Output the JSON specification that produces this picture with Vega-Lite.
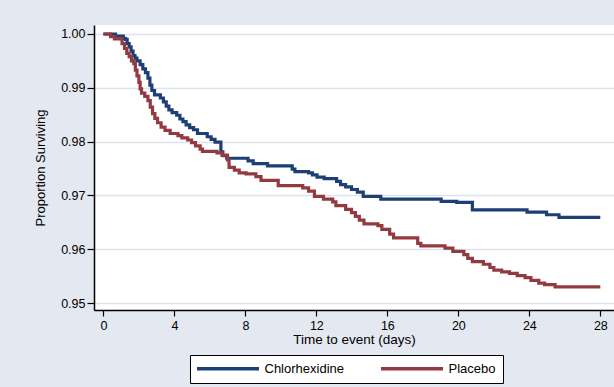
{
  "$schema": "https://vega.github.io/schema/vega-lite/v6.json",
  "width": 520,
  "height": 285,
  "autosize": {"type": "none"},
  "padding": {"left": 94, "top": 25, "right": 0, "bottom": 77},
  "background": "#E4E8F1",
  "config": {"view": {"fill": "white", "stroke": null}, "font": "Liberation Sans"},
  "data": {"values": [
    {"g":"Chlorhexidine","t":0,"s":1.0},
    {"g":"Chlorhexidine","t":0.68,"s":0.9996},
    {"g":"Chlorhexidine","t":1.12,"s":0.9992},
    {"g":"Chlorhexidine","t":1.23,"s":0.9990},
    {"g":"Chlorhexidine","t":1.34,"s":0.9982},
    {"g":"Chlorhexidine","t":1.45,"s":0.9976},
    {"g":"Chlorhexidine","t":1.56,"s":0.9968},
    {"g":"Chlorhexidine","t":1.67,"s":0.9960},
    {"g":"Chlorhexidine","t":1.78,"s":0.9955},
    {"g":"Chlorhexidine","t":1.89,"s":0.9950},
    {"g":"Chlorhexidine","t":2.07,"s":0.9943},
    {"g":"Chlorhexidine","t":2.22,"s":0.9935},
    {"g":"Chlorhexidine","t":2.37,"s":0.9928},
    {"g":"Chlorhexidine","t":2.51,"s":0.9918},
    {"g":"Chlorhexidine","t":2.62,"s":0.9905},
    {"g":"Chlorhexidine","t":2.73,"s":0.9895},
    {"g":"Chlorhexidine","t":2.88,"s":0.9887},
    {"g":"Chlorhexidine","t":3.21,"s":0.9881},
    {"g":"Chlorhexidine","t":3.38,"s":0.9874},
    {"g":"Chlorhexidine","t":3.54,"s":0.9866},
    {"g":"Chlorhexidine","t":3.69,"s":0.9859},
    {"g":"Chlorhexidine","t":3.87,"s":0.9854},
    {"g":"Chlorhexidine","t":4.13,"s":0.9849},
    {"g":"Chlorhexidine","t":4.31,"s":0.9842},
    {"g":"Chlorhexidine","t":4.48,"s":0.9837},
    {"g":"Chlorhexidine","t":4.66,"s":0.9831},
    {"g":"Chlorhexidine","t":4.86,"s":0.9826},
    {"g":"Chlorhexidine","t":5.08,"s":0.9822},
    {"g":"Chlorhexidine","t":5.30,"s":0.9815},
    {"g":"Chlorhexidine","t":5.85,"s":0.9809},
    {"g":"Chlorhexidine","t":6.07,"s":0.9804},
    {"g":"Chlorhexidine","t":6.29,"s":0.9799},
    {"g":"Chlorhexidine","t":6.62,"s":0.9781},
    {"g":"Chlorhexidine","t":6.73,"s":0.9774},
    {"g":"Chlorhexidine","t":6.95,"s":0.9769},
    {"g":"Chlorhexidine","t":8.15,"s":0.9764},
    {"g":"Chlorhexidine","t":8.44,"s":0.9759},
    {"g":"Chlorhexidine","t":9.25,"s":0.9755},
    {"g":"Chlorhexidine","t":10.64,"s":0.9749},
    {"g":"Chlorhexidine","t":10.79,"s":0.9744},
    {"g":"Chlorhexidine","t":11.56,"s":0.9742},
    {"g":"Chlorhexidine","t":11.78,"s":0.9738},
    {"g":"Chlorhexidine","t":12.04,"s":0.9734},
    {"g":"Chlorhexidine","t":12.44,"s":0.9731},
    {"g":"Chlorhexidine","t":13.14,"s":0.9726},
    {"g":"Chlorhexidine","t":13.36,"s":0.9720},
    {"g":"Chlorhexidine","t":13.65,"s":0.9716},
    {"g":"Chlorhexidine","t":13.98,"s":0.9711},
    {"g":"Chlorhexidine","t":14.31,"s":0.9706},
    {"g":"Chlorhexidine","t":14.64,"s":0.9698},
    {"g":"Chlorhexidine","t":15.63,"s":0.9693},
    {"g":"Chlorhexidine","t":19.03,"s":0.9689},
    {"g":"Chlorhexidine","t":19.91,"s":0.9687},
    {"g":"Chlorhexidine","t":20.79,"s":0.9673},
    {"g":"Chlorhexidine","t":23.87,"s":0.9669},
    {"g":"Chlorhexidine","t":24.97,"s":0.9664},
    {"g":"Chlorhexidine","t":25.67,"s":0.9659},
    {"g":"Chlorhexidine","t":28.0,"s":0.9659},
    {"g":"Placebo","t":0,"s":1.0},
    {"g":"Placebo","t":0.40,"s":0.9995},
    {"g":"Placebo","t":0.62,"s":0.9991},
    {"g":"Placebo","t":1.05,"s":0.9982},
    {"g":"Placebo","t":1.19,"s":0.9973},
    {"g":"Placebo","t":1.32,"s":0.9964},
    {"g":"Placebo","t":1.45,"s":0.9958},
    {"g":"Placebo","t":1.58,"s":0.9950},
    {"g":"Placebo","t":1.71,"s":0.9945},
    {"g":"Placebo","t":1.80,"s":0.9933},
    {"g":"Placebo","t":1.89,"s":0.9922},
    {"g":"Placebo","t":2.00,"s":0.9910},
    {"g":"Placebo","t":2.07,"s":0.9898},
    {"g":"Placebo","t":2.15,"s":0.9890},
    {"g":"Placebo","t":2.33,"s":0.9884},
    {"g":"Placebo","t":2.51,"s":0.9876},
    {"g":"Placebo","t":2.64,"s":0.9864},
    {"g":"Placebo","t":2.77,"s":0.9852},
    {"g":"Placebo","t":2.90,"s":0.9843},
    {"g":"Placebo","t":3.05,"s":0.9835},
    {"g":"Placebo","t":3.25,"s":0.9827},
    {"g":"Placebo","t":3.47,"s":0.9821},
    {"g":"Placebo","t":3.76,"s":0.9815},
    {"g":"Placebo","t":4.20,"s":0.9811},
    {"g":"Placebo","t":4.42,"s":0.9807},
    {"g":"Placebo","t":4.75,"s":0.9803},
    {"g":"Placebo","t":4.97,"s":0.9798},
    {"g":"Placebo","t":5.19,"s":0.9792},
    {"g":"Placebo","t":5.45,"s":0.9786},
    {"g":"Placebo","t":5.58,"s":0.9782},
    {"g":"Placebo","t":6.40,"s":0.9779},
    {"g":"Placebo","t":6.68,"s":0.9775},
    {"g":"Placebo","t":6.99,"s":0.9766},
    {"g":"Placebo","t":7.08,"s":0.9752},
    {"g":"Placebo","t":7.38,"s":0.9747},
    {"g":"Placebo","t":7.65,"s":0.9742},
    {"g":"Placebo","t":8.04,"s":0.9740},
    {"g":"Placebo","t":8.59,"s":0.9735},
    {"g":"Placebo","t":8.88,"s":0.9728},
    {"g":"Placebo","t":9.85,"s":0.9718},
    {"g":"Placebo","t":11.23,"s":0.9714},
    {"g":"Placebo","t":11.56,"s":0.9708},
    {"g":"Placebo","t":11.89,"s":0.9698},
    {"g":"Placebo","t":12.40,"s":0.9693},
    {"g":"Placebo","t":12.92,"s":0.9688},
    {"g":"Placebo","t":13.10,"s":0.9681},
    {"g":"Placebo","t":13.65,"s":0.9674},
    {"g":"Placebo","t":13.98,"s":0.9668},
    {"g":"Placebo","t":14.20,"s":0.9661},
    {"g":"Placebo","t":14.42,"s":0.9654},
    {"g":"Placebo","t":14.68,"s":0.9647},
    {"g":"Placebo","t":15.47,"s":0.9644},
    {"g":"Placebo","t":15.69,"s":0.9637},
    {"g":"Placebo","t":16.13,"s":0.9628},
    {"g":"Placebo","t":16.35,"s":0.9621},
    {"g":"Placebo","t":17.71,"s":0.9611},
    {"g":"Placebo","t":17.89,"s":0.9606},
    {"g":"Placebo","t":19.25,"s":0.9602},
    {"g":"Placebo","t":19.69,"s":0.9596},
    {"g":"Placebo","t":20.31,"s":0.9590},
    {"g":"Placebo","t":20.53,"s":0.9583},
    {"g":"Placebo","t":20.79,"s":0.9577},
    {"g":"Placebo","t":21.41,"s":0.9572},
    {"g":"Placebo","t":21.78,"s":0.9566},
    {"g":"Placebo","t":22.00,"s":0.9561},
    {"g":"Placebo","t":22.44,"s":0.9558},
    {"g":"Placebo","t":22.88,"s":0.9555},
    {"g":"Placebo","t":23.32,"s":0.9551},
    {"g":"Placebo","t":23.76,"s":0.9547},
    {"g":"Placebo","t":24.09,"s":0.9542},
    {"g":"Placebo","t":24.53,"s":0.9537},
    {"g":"Placebo","t":24.86,"s":0.9534},
    {"g":"Placebo","t":25.45,"s":0.9530},
    {"g":"Placebo","t":28.0,"s":0.9530}
  ]},
  "mark": {"type": "line", "interpolate": "step-after", "strokeWidth": 3.2},
  "encoding": {
    "x": {
      "field": "t", "type": "quantitative",
      "scale": {"domain": [-0.53, 28.77], "nice": false, "zero": false},
      "axis": {
        "values": [0, 4, 8, 12, 16, 20, 24, 28],
        "title": "Time to event (days)",
        "grid": false,
        "domainColor": "black", "domainWidth": 1.5,
        "tickColor": "black", "tickSize": 6, "tickWidth": 1.2,
        "labelFontSize": 12.5, "labelColor": "black", "labelPadding": 3,
        "titleFontSize": 13.5, "titleFontWeight": "normal", "titleColor": "black", "titlePadding": 1
      }
    },
    "y": {
      "field": "s", "type": "quantitative",
      "scale": {"domain": [0.9487, 1.00167], "nice": false, "zero": false},
      "axis": {
        "values": [0.95, 0.96, 0.97, 0.98, 0.99, 1.0],
        "format": ".2f",
        "title": "Proportion Surviving",
        "grid": true, "gridColor": "#DEE4EE", "gridWidth": 1.5,
        "domainColor": "black", "domainWidth": 1.5,
        "tickColor": "black", "tickSize": 7, "tickWidth": 1.2,
        "labelFontSize": 12.5, "labelColor": "black", "labelPadding": 2,
        "titleFontSize": 13, "titleFontWeight": "normal", "titleColor": "black", "titlePadding": 13
      }
    },
    "color": {
      "field": "g", "type": "nominal",
      "scale": {"domain": ["Chlorhexidine", "Placebo"], "range": ["#1E3F74", "#933A40"]},
      "legend": {
        "title": null,
        "orient": "none",
        "legendX": 96,
        "legendY": 330,
        "direction": "horizontal",
        "symbolType": "M-10,0H10",
        "symbolSize": 38.4,
        "symbolStrokeWidth": 3.5,
        "symbolOffset": 24.5,
        "labelFontSize": 13,
        "labelColor": "black",
        "labelOffset": 30,
        "columnPadding": 30,
        "padding": 7,
        "fillColor": "white",
        "strokeColor": "black"
      }
    }
  }
}
